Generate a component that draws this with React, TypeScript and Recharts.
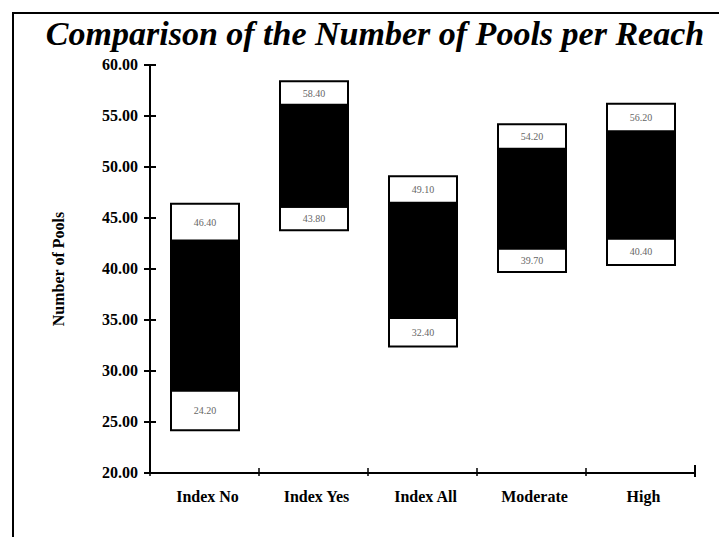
import { BarChart, Bar, XAxis, YAxis, LabelList } from "recharts";

const categories = ["Index No", "Index Yes", "Index All", "Moderate", "High"];
const minPools = [24.2, 43.8, 32.4, 39.7, 40.4];
const lowerPools = [28.1, 46.1, 35.2, 42.0, 43.0];
const upperPools = [42.8, 56.1, 46.5, 51.8, 53.5];
const maxPools = [46.4, 58.4, 49.1, 54.2, 56.2];
const yTicks = [20, 25, 30, 35, 40, 45, 50, 55, 60];

const data = categories.map((name, i) => ({
  name,
  base: minPools[i],
  low: lowerPools[i] - minPools[i],
  mid: upperPools[i] - lowerPools[i],
  high: maxPools[i] - upperPools[i],
  minLabel: minPools[i].toFixed(2),
  maxLabel: maxPools[i].toFixed(2),
}));

const SERIF = '"Liberation Serif", "DejaVu Serif", serif';
const BAND = 545 / categories.length;

function YTick(props: any) {
  const { x, y, payload } = props;
  return (
    <g>
      <line x1={x + 6} x2={x + 18} y1={y} y2={y} stroke="#000" strokeWidth={2} />
      <text
        x={x}
        y={y}
        dy={5}
        textAnchor="end"
        fontFamily={SERIF}
        fontWeight="bold"
        fontSize={16}
        fill="#000"
      >
        {Number(payload.value).toFixed(2)}
      </text>
    </g>
  );
}

function XTick(props: any) {
  const { x, y, payload, index } = props;
  return (
    <g>
      <line x1={x - BAND / 2} x2={x - BAND / 2} y1={y - 5} y2={y + 3} stroke="#000" strokeWidth={1.5} />
      {index === categories.length - 1 && (
        <line x1={x + BAND / 2} x2={x + BAND / 2} y1={y - 8} y2={y + 4} stroke="#000" strokeWidth={2} />
      )}
      <text
        x={x + 3}
        y={y + 29}
        textAnchor="middle"
        fontFamily={SERIF}
        fontWeight="bold"
        fontSize={16}
        fill="#000"
      >
        {payload.value}
      </text>
    </g>
  );
}

export default function App() {
  return (
    <div style={{ position: "absolute", left: 0, top: 0, width: 719, height: 537, background: "#fff" }}>
      <div
        style={{
          position: "absolute",
          left: 12,
          top: 12,
          width: 707,
          height: 525,
          borderTop: "2px solid #000",
          borderLeft: "2px solid #000",
        }}
      />
      <div
        style={{
          position: "absolute",
          left: 40,
          top: 15,
          width: 670,
          textAlign: "center",
          fontFamily: SERIF,
          fontStyle: "italic",
          fontWeight: "bold",
          fontSize: 34,
          whiteSpace: "nowrap",
        }}
      >
        Comparison of the Number of Pools per Reach
      </div>
      <BarChart
        width={719}
        height={537}
        data={data}
        margin={{ top: 65, right: 24, bottom: 0, left: 0 }}
        barSize={68}
        style={{ position: "absolute", left: 0, top: 0 }}
      >
        <XAxis
          dataKey="name"
          height={64}
          axisLine={{ stroke: "#000", strokeWidth: 2 }}
          tickLine={false}
          tickSize={0}
          tickMargin={0}
          tick={<XTick />}
          interval={0}
        />
        <YAxis
          width={150}
          domain={[20, 60]}
          ticks={yTicks}
          allowDataOverflow
          axisLine={{ stroke: "#000", strokeWidth: 2 }}
          tickLine={false}
          tickSize={0}
          tickMargin={12}
          tick={<YTick />}
          label={{
            value: "Number of Pools",
            angle: -90,
            position: "insideLeft",
            offset: 58,
            style: { fontFamily: SERIF, fontWeight: "bold", fontSize: 16, fill: "#000", textAnchor: "middle" },
          }}
        />
        <Bar dataKey="base" stackId="a" fill="transparent" isAnimationActive={false} />
        <Bar dataKey="low" stackId="a" fill="#fff" stroke="#000" strokeWidth={2} isAnimationActive={false}>
          <LabelList dataKey="minLabel" position="center" fontSize={10} fill="#666" fontFamily={SERIF} />
        </Bar>
        <Bar dataKey="mid" stackId="a" fill="#000" stroke="#000" strokeWidth={2} isAnimationActive={false} />
        <Bar dataKey="high" stackId="a" fill="#fff" stroke="#000" strokeWidth={2} isAnimationActive={false}>
          <LabelList dataKey="maxLabel" position="center" fontSize={10} fill="#666" fontFamily={SERIF} />
        </Bar>
      </BarChart>
    </div>
  );
}
